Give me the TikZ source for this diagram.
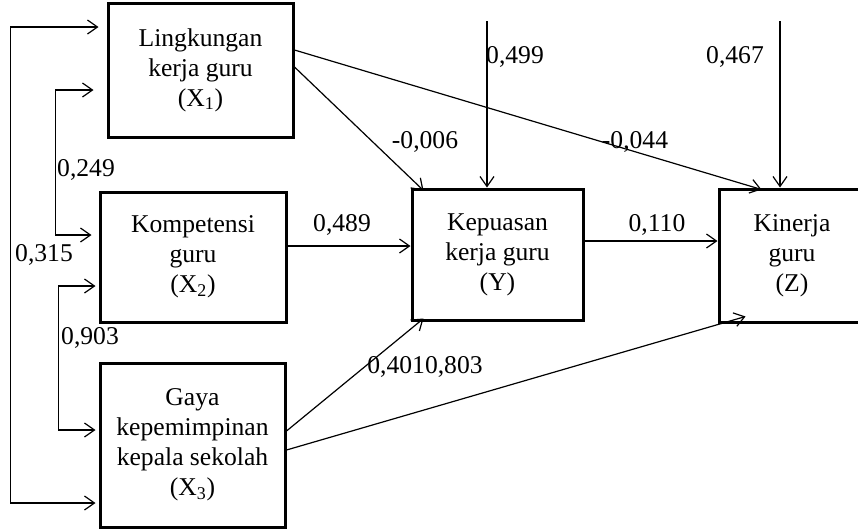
\documentclass[tikz,border=0pt]{standalone}
\usepackage{fontspec}
\setmainfont{Liberation Serif}
\usetikzlibrary{arrows.meta,positioning}

\tikzset{
  varbox/.style={draw, line width=1.5pt, align=center, inner sep=0pt,
    font=\fontsize{12.8}{15}\selectfont},
  arr/.style={-{Straight Barb[length=5pt,width=7pt]}, line width=0.6pt},
  bi/.style={{Straight Barb[length=5pt,width=7pt]}-{Straight Barb[length=5pt,width=7pt]}, line width=0.6pt},
  coef/.style={font=\fontsize{12.8}{15}\selectfont, inner sep=0pt}
}

\begin{document}
\begin{tikzpicture}[x=0.5pt,y=-0.5pt]
        \useasboundingbox (0,0) rectangle (858,531);
        % variables
        \node[varbox, minimum width=92.5pt, minimum height=67pt] (x1) at (200.5,70) {Lingkungan\\kerja guru\\(X\textsubscript{1})};
        \node[varbox, minimum width=93pt, minimum height=65pt] (x2) at (193,257) {Kompetensi\\guru\\(X\textsubscript{2})};
        \node[varbox, minimum width=92.5pt, minimum height=82pt] (x3) at (192.5,445) {Gaya\\kepemimpinan\\kepala sekolah\\(X\textsubscript{3})};
        \node[varbox, minimum width=85.5pt, minimum height=65.5pt] (y) at (497.5,254.5) {Kepuasan\\kerja guru\\(Y)};
        \node[varbox, minimum width=73pt, minimum height=66.5pt] (z) at (792,255.5) {Kinerja\\guru\\(Z)};
        % correlations
        \draw[bi] ([xshift=-4pt,yshift=21.5pt]x1.west) -- ++(-88,0) |- ([xshift=-1.5pt,yshift=-29pt]x3.west);
        \draw[bi] ([xshift=-6.5pt,yshift=-10pt]x1.west) -- ++(-38,0) |- ([xshift=-3.5pt,yshift=11pt]x2.west);
        \draw[bi] ([xshift=-1.5pt,yshift=-14.5pt]x2.west) -- ++(-37,0) |- ([xshift=-1.5pt,yshift=7.5pt]x3.west);
        % paths
        \draw[arr] ([yshift=1.5pt]x1.east) -- ([xshift=6.5pt,yshift=-1.5pt]y.north west);
        \draw[arr] ([yshift=10pt]x1.east) -- ([xshift=22pt,yshift=-1pt]z.north west);
        \draw[arr] ([yshift=5.5pt]x2.east) -- ([yshift=5.5pt]x2.east -| y.west);
        \draw[arr] ([yshift=6.75pt]y.east) -- ([yshift=6.75pt]y.east -| z.west);
        \draw[arr] ([yshift=7pt]x3.east) -- ([xshift=6.5pt,yshift=1.5pt]y.south west);
        \draw[arr] ([yshift=-2.5pt]x3.east) -- ([xshift=14pt,yshift=3.5pt]z.south west);
        % residuals
        \coordinate (ey) at (487,21);
        \coordinate (ez) at (780,21);
        \draw[arr] (ey) -- (ey |- y.north);
        \draw[arr] (ez) -- (ez |- z.north);
        % coefficients
        \foreach \nm/\pos/\val in {c315/{44,255}/{0,315}, c249/{86,170}/{0,249}, c903/{90,338}/{0,903},
            c006/{425,142}/{-0,006}, c499/{515,57}/{0,499}, c467/{735,57}/{0,467},
            c044/{635,142}/{-0,044}, c489/{342,225}/{0,489}, c110/{657,225}/{0,110},
            c401/{425,367}/{0,4010,803}} {
            \node[coef] (\nm) at (\pos) {\val};
        }
\end{tikzpicture}
\end{document}
